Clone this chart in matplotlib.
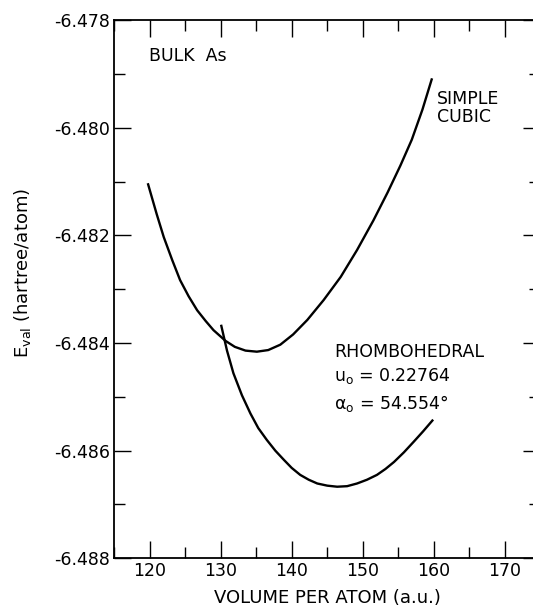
import matplotlib
matplotlib.use("Agg")
import matplotlib.pyplot as plt
from matplotlib.ticker import MultipleLocator

# values
sc_vol = [119.8, 121.0, 122.0, 123.2, 124.3, 125.5, 126.7, 127.9, 129.0,
          130.7, 132.0, 133.5, 135.1, 136.7, 138.4, 140.2, 142.2, 144.5,
          146.9, 149.2, 151.5, 153.5, 155.3, 156.9, 158.4, 159.7]
sc_e = [-6.48105, -6.48160, -6.48203, -6.48246, -6.48283, -6.48313, -6.48339,
        -6.48359, -6.48376, -6.48396, -6.48407, -6.48414, -6.48416, -6.48413,
        -6.48403, -6.48384, -6.48357, -6.48320, -6.48277, -6.48227, -6.48172,
        -6.48120, -6.48070, -6.48022, -6.47966, -6.47910]

rh_vol = [130.1, 130.9, 131.8, 133.0, 134.2, 135.3, 136.5, 137.7, 138.9,
          140.0, 141.2, 142.4, 143.6, 145.0, 146.4, 147.8, 149.2, 150.6,
          152.0, 153.2, 154.4, 155.8, 157.2, 158.5, 159.8]
rh_e = [-6.48368, -6.48414, -6.48456, -6.48497, -6.48531, -6.48558, -6.48580,
        -6.48600, -6.48617, -6.48632, -6.48645, -6.48654, -6.48661, -6.48665,
        -6.48667, -6.48666, -6.48661, -6.48654, -6.48645, -6.48634, -6.48621,
        -6.48603, -6.48583, -6.48564, -6.48544]

x_ticks = [120, 130, 140, 150, 160, 170]
y_ticks = [-6.488, -6.486, -6.484, -6.482, -6.480, -6.478]

plt.rcParams['axes.unicode_minus'] = False
plt.rcParams['font.family'] = ['DejaVu Sans']

fig = plt.figure(figsize=(5.33, 6.09), dpi=100)
ax = fig.add_axes([0.2139, 0.0833, 0.80, 0.8834])

ax.plot(sc_vol, sc_e, color='black', lw=1.7, solid_joinstyle='round')
ax.plot(rh_vol, rh_e, color='black', lw=1.7, solid_joinstyle='round')

ax.set_xlim(115, 175)
ax.set_ylim(-6.488, -6.478)
ax.set_xticks(x_ticks)
ax.set_yticks(y_ticks)
ax.set_yticklabels(["%.3f" % v for v in y_ticks])
ax.xaxis.set_minor_locator(MultipleLocator(5))
ax.yaxis.set_minor_locator(MultipleLocator(0.001))
ax.tick_params(which='both', direction='in', top=True, right=True,
               labelsize=12.5, width=1.0, pad=3)
ax.tick_params(which='major', length=12)
ax.tick_params(which='minor', length=8)
for s in ax.spines.values():
    s.set_linewidth(1.3)

ax.set_xlabel("VOLUME PER ATOM (a.u.)", fontsize=13, labelpad=6)
ax.set_ylabel(r"$\mathregular{E_{val}}$ (hartree/atom)", fontsize=13)
ax.yaxis.set_label_coords(-0.19, 0.53)

ax.text(119.9, -6.47866, "BULK  As", fontsize=12.5, va='center', ha='left')
ax.text(160.5, -6.47963, "SIMPLE\nCUBIC", fontsize=12.5, va='center', ha='left',
        linespacing=1.0)
ax.text(146.0, -6.48417, "RHOMBOHEDRAL", fontsize=12.5, va='center', ha='left')
ax.text(146.0, -6.48462, r"$\mathregular{u_o}$ = 0.22764", fontsize=12.5,
        va='center', ha='left')
ax.text(146.0, -6.48512, r"$\mathregular{\alpha_o}$ = 54.554°", fontsize=12.5,
        va='center', ha='left')

fig.savefig("out.png", dpi=100)
